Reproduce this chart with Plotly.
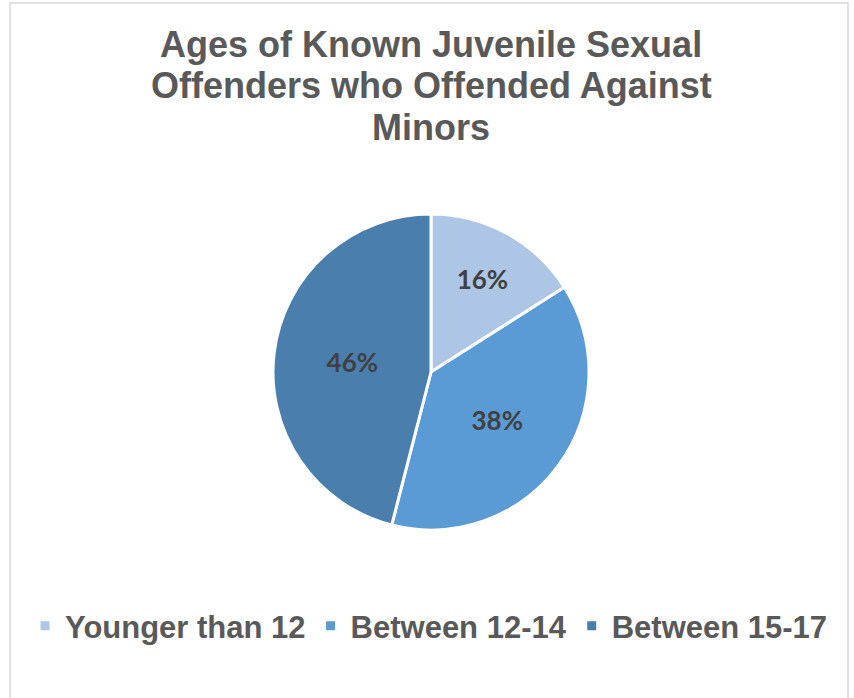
import plotly.graph_objects as go

categories = ["Younger than 12", "Between 12-14", "Between 15-17"]
values = [16, 38, 46]
colors = ["#ADC6E5", "#5B9BD5", "#4A7EAD"]
title_lines = ["Ages of Known Juvenile Sexual", "Offenders who Offended Against", "Minors"]

W, H = 854, 698
cx, cy, r = 431, 372, 158

fig = go.Figure(go.Pie(
    labels=categories,
    values=values,
    sort=False,
    direction="clockwise",
    rotation=0,
    marker=dict(colors=colors, line=dict(color="white", width=3)),
    textinfo="percent",
    texttemplate="%{percent:.0%}",
    textposition="inside",
    insidetextorientation="horizontal",
    insidetextfont=dict(family="Lato", size=26, color="#404040", weight="bold"),
    domain=dict(x=[(cx - r) / W, (cx + r) / W], y=[1 - (cy + r) / H, 1 - (cy - r) / H]),
    hoverinfo="label+percent",
))

title_y = [45, 86, 128]
annotations = [dict(
    text=t,
    x=431 / W, y=1 - yy / H, xref="paper", yref="paper",
    xanchor="center", yanchor="middle",
    showarrow=False,
    font=dict(family="Liberation Sans, Arial", size=36, color="#595959", weight="bold"),
) for t, yy in zip(title_lines, title_y)]

fig.update_layout(
    width=W, height=H,
    margin=dict(l=0, r=0, t=0, b=0),
    paper_bgcolor="white",
    plot_bgcolor="white",
    showlegend=True,
    legend=dict(
        orientation="h",
        x=429 / W, xanchor="center",
        y=1 - 626 / H, yanchor="middle",
        font=dict(family="Liberation Sans, Arial", size=31, color="#595959", weight="bold"),
    ),
    annotations=annotations,
    shapes=[dict(
        type="rect", xref="paper", yref="paper",
        x0=10 / W, x1=848 / W, y0=-0.01, y1=1 - 3 / H,
        line=dict(color="#D9D9D9", width=1.5),
    )],
)

fig.write_html(
    "out.html",
    config={"displayModeBar": False},
    post_script="document.body.style.margin='0';document.body.style.overflow='hidden';",
)
